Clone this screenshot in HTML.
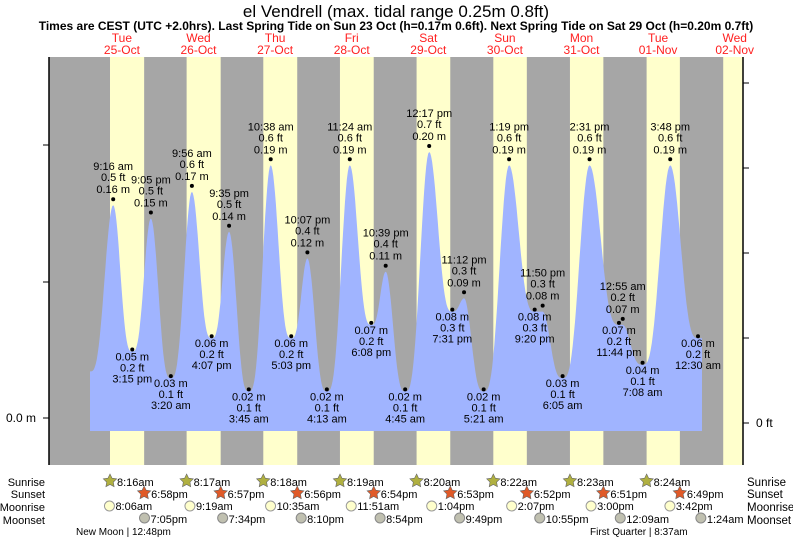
<!DOCTYPE html>
<html><head><meta charset="utf-8"><style>
body{margin:0;background:#fff;}
svg{display:block;font-family:"Liberation Sans",sans-serif;}
</style></head><body>
<svg id="s" width="793" height="539" viewBox="0 0 793 539" xmlns="http://www.w3.org/2000/svg">
<text x="396" y="17" font-size="17" text-anchor="middle">el Vendrell (max. tidal range 0.25m 0.8ft)</text>
<text x="396" y="30" font-size="12" font-weight="bold" text-anchor="middle">Times are CEST (UTC +2.0hrs). Last Spring Tide on Sun 23 Oct (h=0.17m 0.6ft). Next Spring Tide on Sat 29 Oct (h=0.20m 0.7ft)</text>
<rect x="49" y="57" width="694" height="408" fill="#a6a6a6"/>
<g id="days"></g>
<path id="tide" fill="#a0b4ff"/>
<g id="lab" font-size="11" text-anchor="middle" fill="#000"></g>
<line x1="49" y1="57" x2="49" y2="465" stroke="#000" stroke-width="1.5"/>
<line x1="743" y1="57" x2="743" y2="465" stroke="#000" stroke-width="1.5"/>
<line x1="43" y1="418" x2="49" y2="418" stroke="#000"/>
<line x1="43" y1="145" x2="49" y2="145" stroke="#000"/>
<line x1="43" y1="282" x2="49" y2="282" stroke="#000"/>
<g stroke="#000"><line x1="743" y1="423" x2="749" y2="423"/><line x1="743" y1="338" x2="749" y2="338"/><line x1="743" y1="253" x2="749" y2="253"/><line x1="743" y1="168" x2="749" y2="168"/><line x1="743" y1="83" x2="749" y2="83"/></g>
<text x="36" y="422" font-size="12" text-anchor="end">0.0 m</text>
<text x="756" y="427" font-size="12">0 ft</text>
<g font-size="11" text-anchor="end"><text x="45" y="486">Sunrise</text><text x="45" y="498">Sunset</text><text x="45" y="511">Moonrise</text><text x="45" y="524">Moonset</text></g>
<g font-size="11.5"><text x="747" y="486">Sunrise</text><text x="747" y="498">Sunset</text><text x="747" y="511">Moonrise</text><text x="747" y="524">Moonset</text></g>
<g id="bot" font-size="11"></g>
<text x="76" y="535" font-size="10">New Moon | 12:48pm</text>
<text x="590" y="535" font-size="10">First Quarter | 8:37am</text>
</svg>
<script>
var NS="http://www.w3.org/2000/svg";
function X(d,h){return 83.6+76.6*d+h*76.6/24;}
function Y(m){return 418-m*1330;}
function el(p,t,a,txt){var e=document.createElementNS(NS,t);for(var k in a)e.setAttribute(k,a[k]);if(txt!==undefined)e.textContent=txt;p.appendChild(e);return e;}
var days=document.getElementById('days');
var names=[["Tue","25-Oct"],["Wed","26-Oct"],["Thu","27-Oct"],["Fri","28-Oct"],["Sat","29-Oct"],["Sun","30-Oct"],["Mon","31-Oct"],["Tue","01-Nov"],["Wed","02-Nov"]];
var sr=[8.27,8.28,8.3,8.32,8.33,8.37,8.38,8.4,8.4],ss=[18.97,18.95,18.93,18.9,18.88,18.87,18.85,18.82,18.8];
var svg=document.getElementById('s');
for(var d=0;d<9;d++){
 var a=X(d,sr[d]),b=Math.min(X(d,ss[d]),743);
 el(days,'rect',{x:a,y:57,width:b-a,height:408,fill:'#ffffcc'});
 var cx=Math.min(X(d,12),738);
 el(svg,'text',{x:cx,y:42,'font-size':12,'text-anchor':'middle',fill:'#ff2020'},names[d][0]);
 el(svg,'text',{x:cx,y:54,'font-size':12,'text-anchor':'middle',fill:'#ff2020'},names[d][1]);
}
var T=[[0,2.2,0.035,null,null,0],
[0,9.27,0.16,"0.5","9:16 am",1],[0,15.25,0.05,"0.2","3:15 pm",0],[0,21.08,0.15,"0.5","9:05 pm",1],
[1,3.33,0.03,"0.1","3:20 am",0],[1,9.93,0.17,"0.6","9:56 am",1],[1,16.12,0.06,"0.2","4:07 pm",0],[1,21.58,0.14,"0.5","9:35 pm",1],
[2,3.75,0.02,"0.1","3:45 am",0],[2,10.63,0.19,"0.6","10:38 am",1],[2,17.05,0.06,"0.2","5:03 pm",0],[2,22.12,0.12,"0.4","10:07 pm",1],
[3,4.22,0.02,"0.1","4:13 am",0],[3,11.4,0.19,"0.6","11:24 am",1],[3,18.13,0.07,"0.2","6:08 pm",0],[3,22.65,0.11,"0.4","10:39 pm",1],
[4,4.75,0.02,"0.1","4:45 am",0],[4,12.28,0.20,"0.7","12:17 pm",1],[4,19.52,0.08,"0.3","7:31 pm",0],[4,23.2,0.09,"0.3","11:12 pm",1],
[5,5.35,0.02,"0.1","5:21 am",0],[5,13.32,0.19,"0.6","1:19 pm",1],[5,21.33,0.08,"0.3","9:20 pm",0],[5,23.83,0.08,"0.3","11:50 pm",1],
[6,6.08,0.03,"0.1","6:05 am",0],[6,14.52,0.19,"0.6","2:31 pm",1],[6,23.73,0.07,"0.2","11:44 pm",0],[7,0.92,0.07,"0.2","12:55 am",1],
[7,7.13,0.04,"0.1","7:08 am",0],[7,15.8,0.19,"0.6","3:48 pm",1],[8,0.5,0.06,"0.2","12:30 am",0]];
var P=1.6;
var p="M90,431 L90,"+Y(T[0][2]).toFixed(1);
for(var i=0;i<T.length-1;i++){
 var x0=X(T[i][0],T[i][1]),x1=X(T[i+1][0],T[i+1][1]),y0=T[i][2],y1=T[i+1][2];
 if(i==0)x0=90;
 var lo=Math.min(y0,y1),hi=Math.max(y0,y1),up=y1>y0;
 for(var k=1;k<=24;k++){var t=k/24,f=(1-Math.cos(Math.PI*t))/2;
  var g=up?Math.pow(f,P):Math.pow(1-f,P);
  p+=" L"+(x0+(x1-x0)*t).toFixed(1)+","+Y(lo+(hi-lo)*g).toFixed(1);}
}
var xe=X(T[T.length-1][0],T[T.length-1][1]);
p+=" L"+(xe+4).toFixed(1)+","+Y(0.06).toFixed(1)+" L"+(xe+4).toFixed(1)+",431 Z";
document.getElementById('tide').setAttribute('d',p);
var lab=document.getElementById('lab');
for(var i=1;i<T.length;i++){
 var x=X(T[i][0],T[i][1]),y=Y(T[i][2]),m=T[i][2].toFixed(2)+" m",ft=T[i][3]+" ft";
 if(T[i][5]){var dy=y-6;el(lab,'circle',{cx:x,cy:dy,r:2});
  el(lab,'text',{x:x,y:dy-29},T[i][4]);el(lab,'text',{x:x,y:dy-18},ft);el(lab,'text',{x:x,y:dy-6},m);}
 else{var dy=y-2;el(lab,'circle',{cx:x,cy:dy,r:2});
  el(lab,'text',{x:x,y:dy+11},m);el(lab,'text',{x:x,y:dy+22},ft);el(lab,'text',{x:x,y:dy+33},T[i][4]);}
}
var bot=document.getElementById('bot');
function star(cx,cy,r,fill){var s="";for(var j=0;j<10;j++){var rr=j%2?r*0.5:r,an=-Math.PI/2+j*Math.PI/5;s+=(cx+rr*Math.cos(an)).toFixed(1)+","+(cy+rr*Math.sin(an)).toFixed(1)+" ";}el(bot,'polygon',{points:s,fill:fill,stroke:'#666','stroke-width':0.6});}
var srt=["8:16am","8:17am","8:18am","8:19am","8:20am","8:22am","8:23am","8:24am"];
var sst=["6:58pm","6:57pm","6:56pm","6:54pm","6:53pm","6:52pm","6:51pm","6:49pm"];
var mr=[[0,8.1,"8:06am"],[1,9.32,"9:19am"],[2,10.58,"10:35am"],[3,11.85,"11:51am"],[4,13.07,"1:04pm"],[5,14.12,"2:07pm"],[6,15,"3:00pm"],[7,15.7,"3:42pm"]];
var ms=[[0,19.08,"7:05pm"],[1,19.57,"7:34pm"],[2,20.17,"8:10pm"],[3,20.9,"8:54pm"],[4,21.82,"9:49pm"],[5,22.92,"10:55pm"],[7,0.15,"12:09am"],[8,1.4,"1:24am"]];
for(var d=0;d<8;d++){
 var x=X(d,sr[d]);star(x,481,7,'#b0b040');el(bot,'text',{x:x+7,y:486},srt[d]);
 x=X(d,ss[d]);star(x,493,7,'#e05a28');el(bot,'text',{x:x+7,y:498},sst[d]);
 x=X(mr[d][0],mr[d][1]);el(bot,'circle',{cx:x,cy:506,r:5,fill:'#ffffcc',stroke:'#999'});el(bot,'text',{x:x+6,y:510},mr[d][2]);
 x=X(ms[d][0],ms[d][1]);el(bot,'circle',{cx:x,cy:518,r:5,fill:'#c0c0b0',stroke:'#888'});el(bot,'text',{x:x+6,y:523},ms[d][2]);
}
</script>
</body></html>
